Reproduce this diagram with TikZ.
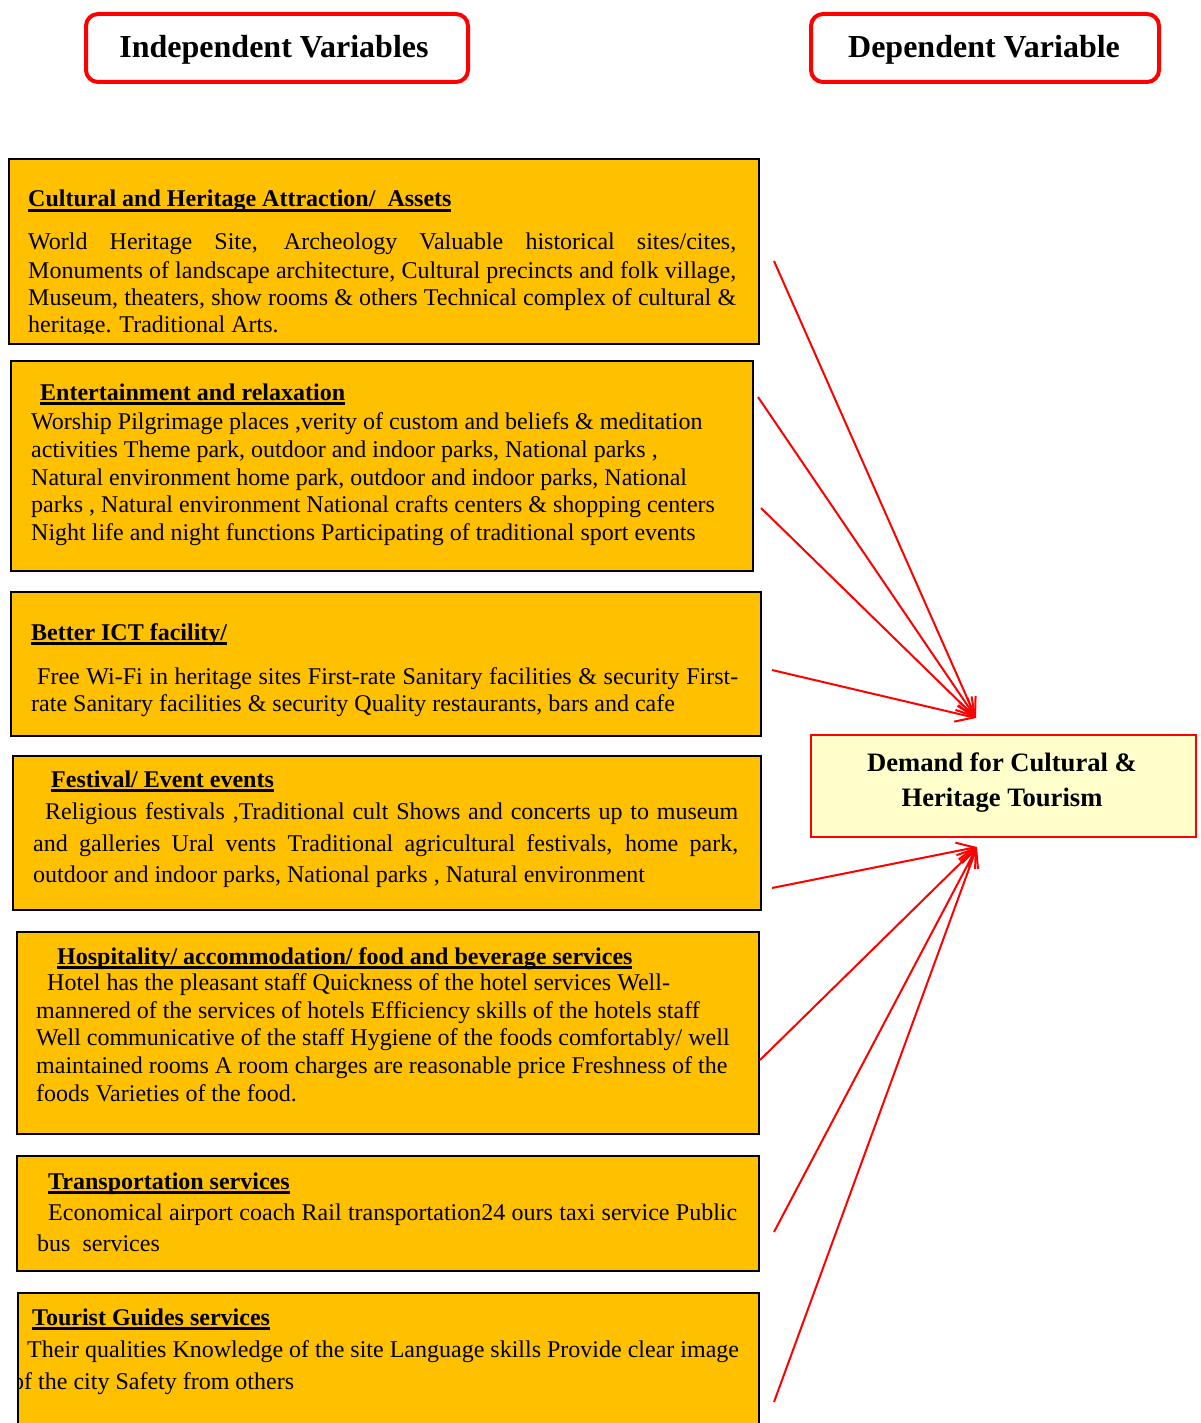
\documentclass[tikz,border=0pt]{standalone}
\usepackage{fontspec}
\setmainfont{Liberation Serif}
\usetikzlibrary{arrows.meta}
\definecolor{gold}{RGB}{255,192,0}
\definecolor{paleyellow}{RGB}{255,255,204}
\newsavebox\ulbox
\newcommand\myul[1]{\sbox\ulbox{#1}\rlap{\rule[-4.6pt]{\wd\ulbox}{2.2pt}}\usebox\ulbox}
\newcommand\jl[2]{\makebox[#1pt][s]{#2}}
\begin{document}
\begin{tikzpicture}[x=1pt,y=-1pt,
  ybox/.style={draw=black, line width=2.4pt, fill=gold, rectangle, inner sep=0pt, anchor=north west},
  hdrbox/.style={draw=red, line width=4pt, rounded corners=12pt, rectangle, inner sep=0pt, anchor=north west},
  dembox/.style={draw=red, line width=2.2pt, fill=paleyellow, rectangle, inner sep=0pt, anchor=north west},
  ttl/.style={anchor=base west, inner sep=0pt, font=\fontsize{24}{27.6}\bfseries\selectfont},
  txt/.style={anchor=base west, inner sep=0pt, font=\fontsize{24}{27.6}\selectfont},
  hdrtxt/.style={anchor=base, inner sep=0pt, font=\fontsize{32}{36}\bfseries\selectfont},
  demtxt/.style={anchor=base, inner sep=0pt, font=\fontsize{26.6}{35}\bfseries\selectfont},
  arr/.style={draw=red, line width=2pt, -{Straight Barb[length=18pt,width=17pt]}}
]
\useasboundingbox (0,0) rectangle (1200,1423);
\fill[white] (0,0) rectangle (1200,1423);
\clip (0,0) rectangle (1200,1423);

% headers
\node[hdrbox, minimum width=382pt, minimum height=68pt] (h1) at (84,12) {};
\node[hdrtxt] (h1t) at (274,58) {Independent Variables};
\node[hdrbox, minimum width=348pt, minimum height=68pt] (h2) at (809,12) {};
\node[hdrtxt] (h2t) at (984,58) {Dependent Variable};

% box 1
\node[ybox, minimum width=750pt, minimum height=185pt] (b1) at (8,158) {};
\node[ttl] (b1t) at (28,207) {\myul{Cultural and Heritage Attraction/\ \ Assets}};
\begin{scope}
\clip (8,158) rectangle (758,333);
\node[txt] (b1l1) at (28,250) {\jl{708}{World Heritage Site, Archeology Valuable historical sites/cites,}};
\node[txt] (b1l2) at (28,278) {\jl{708}{Monuments of landscape architecture, Cultural precincts and folk village,}};
\node[txt] (b1l3) at (28,305) {\jl{708}{Museum, theaters, show rooms \& others Technical complex of cultural \&}};
\node[txt] (b1l4) at (28,332) {heritage. Traditional Arts.};
\end{scope}

% box 2
\node[ybox, minimum width=742pt, minimum height=210pt] (b2) at (10,360) {};
\node[ttl] (b2t) at (40,400) {\myul{Entertainment and relaxation}};
\node[txt] (b2l1) at (31,429) {Worship Pilgrimage places ,verity of custom and beliefs \& meditation};
\node[txt] (b2l2) at (31,457) {activities Theme park, outdoor and indoor parks, National parks ,};
\node[txt] (b2l3) at (31,485) {Natural environment home park, outdoor and indoor parks, National};
\node[txt] (b2l4) at (31,512) {parks , Natural environment National crafts centers \& shopping centers};
\node[txt] (b2l5) at (31,540) {Night life and night functions Participating of traditional sport events};

% box 3
\node[ybox, minimum width=750pt, minimum height=144pt] (b3) at (10,591) {};
\node[ttl] (b3t) at (31,640) {\myul{Better ICT facility/}};
\node[txt] (b3l1) at (37,684) {\jl{701}{Free Wi-Fi in heritage sites First-rate Sanitary facilities \& security First-}};
\node[txt] (b3l2) at (31,711) {rate Sanitary facilities \& security Quality restaurants, bars and cafe};

% box 4
\node[ybox, minimum width=748pt, minimum height=154pt] (b4) at (12,755) {};
\node[ttl] (b4t) at (51,787) {\myul{Festival/ Event events}};
\node[txt] (b4l1) at (45,819) {\jl{693}{Religious festivals ,Traditional cult Shows and concerts up to museum}};
\node[txt] (b4l2) at (33,851) {\jl{705}{and galleries Ural vents Traditional agricultural festivals, home park,}};
\node[txt] (b4l3) at (33,882) {outdoor and indoor parks, National parks , Natural environment};

% box 5
\node[ybox, minimum width=742pt, minimum height=202pt] (b5) at (16,931) {};
\node[ttl] (b5t) at (57,964) {\myul{Hospitality/ accommodation/ food and beverage services}};
\node[txt] (b5l1) at (47,990) {Hotel has the pleasant staff Quickness of the hotel services Well-};
\node[txt] (b5l2) at (36,1018) {mannered of the services of hotels Efficiency skills of the hotels staff};
\node[txt] (b5l3) at (36,1045) {Well communicative of the staff Hygiene of the foods comfortably/ well};
\node[txt] (b5l4) at (36,1073) {maintained rooms A room charges are reasonable price Freshness of the};
\node[txt] (b5l5) at (36,1101) {foods Varieties of the food.};

% box 6
\node[ybox, minimum width=742pt, minimum height=115pt] (b6) at (16,1155) {};
\node[ttl] (b6t) at (48,1189) {\myul{Transportation services}};
\node[txt] (b6l1) at (48,1220) {\jl{689}{Economical airport coach Rail transportation24 ours taxi service Public}};
\node[txt] (b6l2) at (37,1251) {bus\ \ services};

% box 7
\node[ybox, minimum width=741pt, minimum height=160pt] (b7) at (17,1292) {};
\node[ttl] (b7t) at (32,1325) {\myul{Tourist Guides services}};
\begin{scope}
\clip (18.2,1292) rectangle (758,1423);
\node[txt] (b7l1) at (27,1357) {Their qualities Knowledge of the site Language skills Provide clear image};
\node[txt] (b7l2) at (12,1389) {of the city Safety from others};
\end{scope}

% dependent box
\node[dembox, minimum width=385pt, minimum height=102pt] (dem) at (810,734) {};
\node[demtxt] (deml1) at (1002,771) {Demand for Cultural \&};
\node[demtxt] (deml2) at (1002,806) {Heritage Tourism};

% arrow coordinates
\coordinate (tu) at (976,718);
\coordinate (tl) at (977,847);
\coordinate (s1) at (774,261);
\coordinate (s2) at (758,397);
\coordinate (s3) at (761,508);
\coordinate (s4) at (772,670);
\coordinate (s5) at (772,888);
\coordinate (s6) at (760,1060);
\coordinate (s7) at (774,1232);
\coordinate (s8) at (774,1402);
\draw[arr] (s1) -- (tu);
\draw[arr] (s2) -- (tu);
\draw[arr] (s3) -- (tu);
\draw[arr] (s4) -- (tu);
\draw[arr] (s5) -- (tl);
\draw[arr] (s6) -- (tl);
\draw[arr] (s7) -- (tl);
\draw[arr] (s8) -- (tl);
\end{tikzpicture}
\end{document}
